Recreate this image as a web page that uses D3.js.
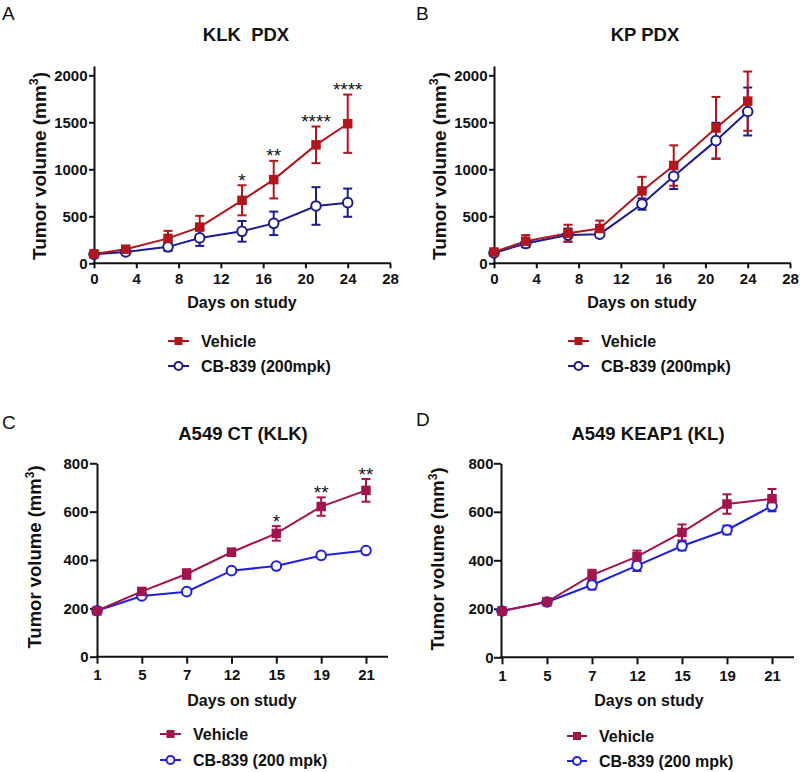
<!DOCTYPE html>
<html>
<head>
<meta charset="utf-8">
<script src="https://cdn.jsdelivr.net/npm/d3@7"></script>
<style>
  html, body { margin: 0; padding: 0; background: #fff; }
  svg { display: block; font-family: "Liberation Sans", Arial, sans-serif; }
</style>
</head>
<body>
<svg id="chart" width="800" height="772"></svg>
<script>
// ---------- DATA ----------
// Panel A: KLK PDX
const klkDays = [0, 3, 7, 10, 14, 17, 21, 24];
const klkVehicle = [100, 150, 265, 385, 670, 890, 1260, 1485];
const klkVehicleErr = [12, 20, 80, 120, 160, 200, 195, 310];
const klkCB = [95, 120, 175, 270, 340, 425, 610, 645];
const klkCBErr = [10, 20, 45, 85, 110, 125, 200, 150];
const klkStars = ["", "", "", "", "*", "**", "****", "****"];

// Panel B: KP PDX
const kpDays = [0, 3, 7, 10, 14, 17, 21, 24];
const kpVehicle = [120, 235, 320, 370, 770, 1040, 1440, 1725];
const kpVehicleErr = [15, 65, 90, 85, 150, 215, 330, 315];
const kpCB = [110, 210, 300, 310, 630, 925, 1305, 1615];
const kpCBErr = [15, 30, 70, 30, 60, 135, 190, 255];

// Panel C: A549 CT (KLK)
const a549Days = ["1", "5", "7", "12", "15", "19", "21"];
const ctVehicle = [190, 270, 342, 432, 510, 621, 688];
const ctVehicleErr = [8, 12, 20, 15, 30, 38, 47];
const ctCB = [190, 251, 269, 356, 375, 419, 439];
const ctCBErr = [5, 6, 6, 6, 6, 6, 6];
const ctStars = ["", "", "", "", "*", "**", "**"];

// Panel D: A549 KEAP1 (KL)
const keapVehicle = [191, 229, 339, 415, 515, 632, 654];
const keapVehicleErr = [8, 8, 22, 25, 33, 40, 40];
const keapCB = [191, 228, 298, 378, 459, 525, 624];
const keapCBErr = [6, 8, 18, 22, 18, 18, 22];

// Tick labels
const pdxXTicks = [0, 4, 8, 12, 16, 20, 24, 28];
const pdxYTicks = [0, 500, 1000, 1500, 2000];
const a549YTicks = [0, 200, 400, 600, 800];

// Legend labels
const pdxLegend = ["Vehicle", "CB-839 (200mpk)"];
const a549Legend = ["Vehicle", "CB-839 (200 mpk)"];

// ---------- DRAWING ----------
const svg = d3.select("#chart");
const FONT = "'Liberation Sans', Arial, sans-serif";

function drawPanel(cfg) {
  const g = svg.append("g");
  const x = cfg.x, y = cfg.y;

  // Panel letter
  g.append("text").attr("x", cfg.letterX).attr("y", cfg.letterY)
    .attr("font-size", 19).attr("font-family", FONT).attr("fill", "#111")
    .text(cfg.letter);

  // Title
  g.append("text").attr("x", cfg.titleX).attr("y", cfg.titleY)
    .attr("text-anchor", "middle").attr("font-size", 18.5).attr("font-weight", "bold")
    .attr("font-family", FONT).style("white-space", "pre").attr("fill", "#111")
    .text(cfg.title);

  // Y axis
  const yAxis = d3.axisLeft(y).tickValues(cfg.yTicks).tickFormat(d3.format("d"))
    .tickSize(cfg.yTickSize).tickPadding(cfg.yTickPad).tickSizeOuter(0);
  const ya = g.append("g").attr("transform", `translate(${cfg.axisX},0)`).call(yAxis);
  ya.select(".domain").attr("stroke", "#111").attr("stroke-width", 2);
  ya.selectAll(".tick line").attr("stroke", "#111").attr("stroke-width", 2);
  ya.selectAll(".tick text").attr("font-size", 15).attr("font-weight", "bold")
    .attr("font-family", FONT).attr("fill", "#111");

  // X axis
  const xAxis = d3.axisBottom(x).tickSize(cfg.xTickSize).tickPadding(cfg.xTickPad).tickSizeOuter(0);
  if (cfg.xTicks) xAxis.tickValues(cfg.xTicks);
  const xa = g.append("g").attr("transform", `translate(0,${cfg.axisY})`).call(xAxis);
  xa.select(".domain").remove();
  xa.append("line").attr("x1", cfg.axisX - 1).attr("x2", cfg.xAxisEnd)
    .attr("y1", 0).attr("y2", 0).attr("stroke", "#111").attr("stroke-width", 2);
  xa.selectAll(".tick line").attr("stroke", "#111").attr("stroke-width", 2);
  xa.selectAll(".tick text").attr("font-size", 15).attr("font-weight", "bold")
    .attr("font-family", FONT).attr("fill", "#111");

  // Axis titles
  const yl = g.append("text")
    .attr("transform", `translate(${cfg.yLabelX},${cfg.yLabelY}) rotate(-90)`)
    .attr("text-anchor", "middle").attr("font-size", cfg.yLabelSize).attr("font-weight", "bold")
    .attr("font-family", FONT).attr("fill", "#111");
  yl.append("tspan").text("Tumor volume (mm");
  yl.append("tspan").attr("font-size", cfg.yLabelSize * 0.65).attr("dy", -cfg.yLabelSize * 0.4).text("3");
  yl.append("tspan").attr("dy", cfg.yLabelSize * 0.4).text(")");

  g.append("text").attr("x", cfg.xLabelX).attr("y", cfg.xLabelY)
    .attr("text-anchor", "middle").attr("font-size", 16).attr("font-weight", "bold")
    .attr("font-family", FONT).attr("fill", "#111").text("Days on study");

  // Series
  const series = [
    { vals: cfg.cb, err: cfg.cbErr, color: cfg.cbColor, shape: "circle" },
    { vals: cfg.veh, err: cfg.vehErr, color: cfg.vehColor, shape: "square" }
  ];
  const line = d3.line().x((d, i) => x(cfg.days[i])).y(d => y(d));

  series.forEach(s => {
    g.append("path").datum(s.vals).attr("d", line).attr("fill", "none")
      .attr("stroke", s.color).attr("stroke-width", 2);
  });
  series.forEach(s => {
    const eg = g.append("g").attr("stroke", s.color).attr("stroke-width", 2);
    s.vals.forEach((v, i) => {
      const cx = x(cfg.days[i]);
      const top = y(v + s.err[i]), bot = y(v - s.err[i]);
      eg.append("line").attr("x1", cx).attr("x2", cx).attr("y1", top).attr("y2", bot);
      eg.append("line").attr("x1", cx - 4.5).attr("x2", cx + 4.5).attr("y1", top).attr("y2", top);
      eg.append("line").attr("x1", cx - 4.5).attr("x2", cx + 4.5).attr("y1", bot).attr("y2", bot);
    });
  });
  function marker(sel, shape, color, cx, cy) {
    if (shape === "square") {
      sel.append("rect").attr("x", cx - 4.75).attr("y", cy - 4.75).attr("width", 9.5).attr("height", 9.5)
        .attr("fill", color);
    } else {
      sel.append("circle").attr("cx", cx).attr("cy", cy).attr("r", 4.8)
        .attr("fill", "#fff").attr("stroke", color).attr("stroke-width", 2);
    }
  }
  series.forEach(s => {
    s.vals.forEach((v, i) => marker(g, s.shape, s.color, x(cfg.days[i]), y(v)));
  });

  // Significance stars
  if (cfg.stars) {
    cfg.stars.forEach((st, i) => {
      if (!st) return;
      const top = y(cfg.veh[i] + cfg.vehErr[i]);
      g.append("text").attr("x", x(cfg.days[i])).attr("y", top + 1.5)
        .attr("text-anchor", "middle").attr("font-size", 19).attr("font-family", FONT)
        .attr("fill", "#111").text(st);
    });
  }

  // Legend
  const legItems = [
    { label: cfg.legend[0], color: cfg.vehColor, shape: "square", y: cfg.legY[0] },
    { label: cfg.legend[1], color: cfg.cbColor, shape: "circle", y: cfg.legY[1] }
  ];
  legItems.forEach(it => {
    g.append("line").attr("x1", cfg.legX0).attr("x2", cfg.legX1).attr("y1", it.y).attr("y2", it.y)
      .attr("stroke", it.color).attr("stroke-width", 2);
    const cx = (cfg.legX0 + cfg.legX1) / 2;
    if (it.shape === "square") {
      g.append("rect").attr("x", cx - 4).attr("y", it.y - 4).attr("width", 8).attr("height", 8).attr("fill", it.color);
    } else {
      g.append("circle").attr("cx", cx).attr("cy", it.y).attr("r", 4)
        .attr("fill", "#fff").attr("stroke", it.color).attr("stroke-width", 2);
    }
    g.append("text").attr("x", cfg.legTextX).attr("y", it.y + 5.8)
      .attr("font-size", 16).attr("font-weight", "bold").attr("font-family", FONT)
      .attr("fill", "#111").text(it.label);
  });
}

// Panel A
drawPanel({
  letter: "A", letterX: 2, letterY: 20,
  title: "KLK  PDX", titleX: 246, titleY: 41,
  x: d3.scaleLinear().domain([0, 28]).range([94, 390]),
  y: d3.scaleLinear().domain([0, 2100]).range([263.3, 65.9]),
  axisX: 94, axisY: 263.3, xAxisEnd: 391,
  xTicks: pdxXTicks, yTicks: pdxYTicks,
  yTickSize: 5, yTickPad: 1.5, xTickSize: 5, xTickPad: 5,
  yLabelX: 46, yLabelY: 166, yLabelSize: 19,
  xLabelX: 242, xLabelY: 308,
  days: klkDays, veh: klkVehicle, vehErr: klkVehicleErr, cb: klkCB, cbErr: klkCBErr,
  stars: klkStars,
  vehColor: "#B0161C", cbColor: "#1C1C8E",
  legend: pdxLegend, legY: [341, 366], legX0: 168, legX1: 189, legTextX: 201
});

// Panel B
drawPanel({
  letter: "B", letterX: 416, letterY: 20,
  title: "KP PDX", titleX: 645, titleY: 41,
  x: d3.scaleLinear().domain([0, 28]).range([494, 790]),
  y: d3.scaleLinear().domain([0, 2100]).range([263.3, 65.9]),
  axisX: 494, axisY: 263.3, xAxisEnd: 791,
  xTicks: pdxXTicks, yTicks: pdxYTicks,
  yTickSize: 5, yTickPad: 1.5, xTickSize: 5, xTickPad: 5,
  yLabelX: 446, yLabelY: 166, yLabelSize: 19,
  xLabelX: 642, xLabelY: 308,
  days: kpDays, veh: kpVehicle, vehErr: kpVehicleErr, cb: kpCB, cbErr: kpCBErr,
  stars: null,
  vehColor: "#B0161C", cbColor: "#1C1C8E",
  legend: pdxLegend, legY: [341, 366], legX0: 568, legX1: 589, legTextX: 601
});

// Panel C
drawPanel({
  letter: "C", letterX: 2, letterY: 429,
  title: "A549 CT (KLK)", titleX: 243, titleY: 440,
  x: d3.scalePoint().domain(a549Days).range([97, 366]),
  y: d3.scaleLinear().domain([0, 800]).range([656.7, 463.3]),
  axisX: 97, axisY: 656.7, xAxisEnd: 388,
  xTicks: null, yTicks: a549YTicks,
  yTickSize: 7, yTickPad: 1.5, xTickSize: 7, xTickPad: 6,
  yLabelX: 41, yLabelY: 557, yLabelSize: 18.5,
  xLabelX: 242, xLabelY: 706,
  days: a549Days, veh: ctVehicle, vehErr: ctVehicleErr, cb: ctCB, cbErr: ctCBErr,
  stars: ctStars,
  vehColor: "#A3144E", cbColor: "#2020DC",
  legend: a549Legend, legY: [734, 760], legX0: 160, legX1: 181, legTextX: 193
});

// Panel D
drawPanel({
  letter: "D", letterX: 416, letterY: 426,
  title: "A549 KEAP1 (KL)", titleX: 648, titleY: 440,
  x: d3.scalePoint().domain(a549Days).range([502, 772]),
  y: d3.scaleLinear().domain([0, 800]).range([657.3, 463.3]),
  axisX: 501, axisY: 657.3, xAxisEnd: 794,
  xTicks: null, yTicks: a549YTicks,
  yTickSize: 7, yTickPad: 0.5, xTickSize: 7, xTickPad: 6,
  yLabelX: 444, yLabelY: 559, yLabelSize: 18.5,
  xLabelX: 649, xLabelY: 706,
  days: a549Days, veh: keapVehicle, vehErr: keapVehicleErr, cb: keapCB, cbErr: keapCBErr,
  stars: null,
  vehColor: "#A3144E", cbColor: "#2020DC",
  legend: a549Legend, legY: [736, 761], legX0: 567, legX1: 587, legTextX: 599
});
</script>
</body>
</html>
